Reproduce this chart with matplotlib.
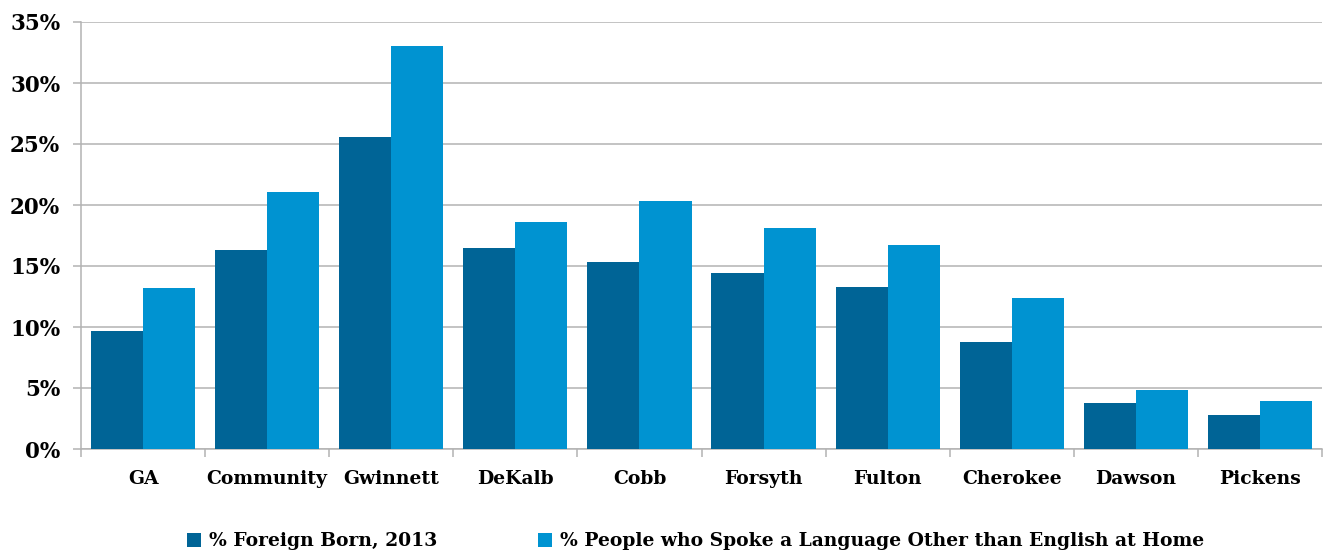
import matplotlib
matplotlib.use("Agg")
import matplotlib.pyplot as plt
import numpy as np
from matplotlib.ticker import MultipleLocator, FuncFormatter, FixedLocator

counties = ["GA", "Community", "Gwinnett", "DeKalb", "Cobb", "Forsyth",
            "Fulton", "Cherokee", "Dawson", "Pickens"]
foreign_born = [9.7, 16.3, 25.6, 16.5, 15.3, 14.4, 13.3, 8.8, 3.8, 2.8]
other_language = [13.2, 21.1, 33.0, 18.6, 20.3, 18.1, 16.7, 12.4, 4.8, 3.9]
series_labels = ["% Foreign Born, 2013",
                 "% People who Spoke a Language Other than English at Home"]

dark_blue = "#006496"
light_blue = "#0093D1"
grid_grey = "#b3b3b3"

plt.rcParams["font.family"] = ["DejaVu Serif"]
plt.rcParams["font.weight"] = "bold"

fig = plt.figure(figsize=(13.28, 5.54), dpi=100)
ax = fig.add_axes([81 / 1328, 105 / 554, (1322 - 81) / 1328, (449 - 22) / 554])

x = np.arange(len(counties))
w = 0.42
ax.bar(x - w / 2, foreign_born, width=w, color=dark_blue, label=series_labels[0], zorder=3)
ax.bar(x + w / 2, other_language, width=w, color=light_blue, label=series_labels[1], zorder=3)

ax.set_xlim(-0.5, len(counties) - 0.5)
ax.set_ylim(0, 35)
ax.yaxis.set_major_locator(MultipleLocator(5))
ax.yaxis.set_major_formatter(FuncFormatter(lambda v, p: f"{v:.0f}%"))
ax.grid(axis="y", color=grid_grey, linewidth=1.1, zorder=0)

ax.set_xticks(x)
ax.set_xticklabels(counties)
ax.xaxis.set_minor_locator(FixedLocator(np.arange(-0.5, len(counties), 1.0)))
ax.tick_params(axis="x", which="major", length=0, pad=15, labelsize=13.5)
ax.tick_params(axis="x", which="minor", length=6, color=grid_grey, width=1.1)
ax.tick_params(axis="y", length=6, color=grid_grey, width=1.1, labelsize=15.5, pad=9)

for side in ["top", "right"]:
    ax.spines[side].set_visible(False)
for side in ["left", "bottom"]:
    ax.spines[side].set_color(grid_grey)
    ax.spines[side].set_linewidth(1.1)

for lbl in ax.get_xticklabels() + ax.get_yticklabels():
    lbl.set_fontweight("bold")

fig.legend(loc="center", bbox_to_anchor=(0.5237, 0.023), ncol=2, frameon=False,
           prop={"weight": "bold", "size": 13.5}, handlelength=0.75, handleheight=0.75,
           handletextpad=0.4, columnspacing=5.4)

fig.savefig("out.png", dpi=100)
